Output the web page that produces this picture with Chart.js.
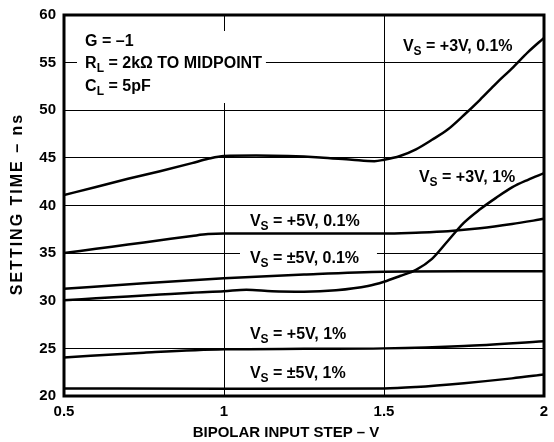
<!DOCTYPE html>
<html>
<head>
<meta charset="utf-8">
<script src="https://cdn.jsdelivr.net/npm/chart.js@4/dist/chart.umd.min.js"></script>
<style>
html,body{margin:0;padding:0;background:#fff;}
#wrap{width:554px;height:442px;position:relative;}
</style>
</head>
<body>
<div id="wrap"><canvas id="c"></canvas></div>
<script>
// ---- data ----
const xTicks = [0.5, 1, 1.5, 2];
const yTicks = [20, 25, 30, 35, 40, 45, 50, 55, 60];

const xA = [0.5, 0.6, 0.7, 0.8, 0.9, 0.95, 1.0, 1.1, 1.2, 1.3, 1.4, 1.47, 1.5, 1.55, 1.6, 1.65, 1.7, 1.75, 1.8, 1.85, 1.9, 1.95, 2.0];
const yA = [41.1, 41.95, 42.8, 43.6, 44.45, 44.9, 45.2, 45.25, 45.2, 45.05, 44.8, 44.65, 44.8, 45.2, 45.9, 46.9, 48.0, 49.5, 51.1, 52.8, 54.4, 56.1, 57.6];

const xB = [0.5, 0.6, 0.7, 0.8, 0.9, 1.0, 1.07, 1.15, 1.25, 1.35, 1.45, 1.5, 1.55, 1.6, 1.65, 1.7, 1.75, 1.8, 1.85, 1.9, 1.95, 2.0];
const yB = [30.05, 30.25, 30.45, 30.65, 30.85, 31.0, 31.15, 31.0, 30.95, 31.1, 31.55, 32.0, 32.6, 33.25, 34.4, 36.3, 38.2, 39.6, 40.8, 41.9, 42.7, 43.4];

const xC = [0.5, 0.6, 0.7, 0.8, 0.9, 0.95, 1.0, 1.2, 1.4, 1.5, 1.6, 1.7, 1.8, 1.9, 2.0];
const yC = [35.0, 35.45, 35.9, 36.35, 36.8, 37.0, 37.05, 37.05, 37.05, 37.05, 37.15, 37.3, 37.6, 38.05, 38.6];

const xD = [0.5, 0.75, 1.0, 1.25, 1.5, 1.75, 2.0];
const yD = [31.25, 31.85, 32.35, 32.75, 33.05, 33.1, 33.1];

const xE = [0.5, 0.75, 1.0, 1.25, 1.5, 1.75, 2.0];
const yE = [24.05, 24.55, 24.9, 24.95, 25.0, 25.25, 25.75];

const xF = [0.5, 1.0, 1.5, 1.6, 1.75, 1.9, 2.0];
const yF = [20.8, 20.75, 20.8, 20.95, 21.35, 21.85, 22.25];

const seriesNames = ['VS = +3V, 0.1%', 'VS = +3V, 1%', 'VS = +5V, 0.1%', 'VS = ±5V, 0.1%', 'VS = +5V, 1%', 'VS = ±5V, 1%'];

// ---- annotations (text, in data coordinates) ----
const noteLines = [
  {parts: [['G = \u20131', 0]], x: 0.566, y: 56.75},
  {parts: [['R', 0], ['L', 1], [' = 2k\u03A9 TO MIDPOINT', 0]], x: 0.566, y: 54.44},
  {parts: [['C', 0], ['L', 1], [' = 5pF', 0]], x: 0.566, y: 52.02}
];
const curveLabels = [
  {parts: [['V', 0], ['S', 1], [' = +3V, 0.1%', 0]], x: 1.559, y: 56.22},
  {parts: [['V', 0], ['S', 1], [' = +3V, 1%', 0]], x: 1.609, y: 42.47},
  {parts: [['V', 0], ['S', 1], [' = +5V, 0.1%', 0]], x: 1.081, y: 37.85},
  {parts: [['V', 0], ['S', 1], [' = \u00B15V, 0.1%', 0]], x: 1.081, y: 33.96},
  {parts: [['V', 0], ['S', 1], [' = +5V, 1%', 0]], x: 1.081, y: 25.98},
  {parts: [['V', 0], ['S', 1], [' = \u00B15V, 1%', 0]], x: 1.081, y: 21.89}
];
const maskBoxes = [
  {x0: 0.5406, x1: 1.131, y0: 58.32, y1: 50.76},
  {x0: 1.05, x1: 1.478, y0: 35.64, y1: 33.44}
];
const xTitle = 'BIPOLAR INPUT STEP \u2013 V';
const yTitle = 'SETTING TIME \u2013 ns';

const FONT = '"Liberation Sans", Arial, Helvetica, sans-serif';
const zip = (xs, ys) => xs.map((x, i) => ({x: x, y: ys[i]}));
const allX = [xA, xB, xC, xD, xE, xF];
const allY = [yA, yB, yC, yD, yE, yF];

const datasets = allX.map((xs, i) => ({
  label: seriesNames[i],
  data: zip(xs, allY[i]),
  borderColor: '#000',
  borderWidth: 2.5,
  pointRadius: 0,
  fill: false,
  cubicInterpolationMode: 'monotone'
}));

function drawParts(ctx, parts, x, y) {
  let cx = x;
  parts.forEach(([t, sub]) => {
    ctx.font = 'bold ' + (sub ? 12 : 16) + 'px ' + FONT;
    ctx.fillText(t, cx, sub ? y + 4 : y);
    cx += ctx.measureText(t).width;
  });
}

const decor = {
  id: 'decor',
  beforeDatasetsDraw(chart) {
    const {ctx, scales: {x, y}} = chart;
    ctx.save();
    ctx.fillStyle = '#fff';
    maskBoxes.forEach(b => {
      const px0 = x.getPixelForValue(b.x0), px1 = x.getPixelForValue(b.x1);
      const py0 = y.getPixelForValue(b.y0), py1 = y.getPixelForValue(b.y1);
      ctx.fillRect(px0, py0, px1 - px0, py1 - py0);
    });
    ctx.restore();
  },
  afterDatasetsDraw(chart) {
    const {ctx, chartArea: a, scales: {x, y}} = chart;
    ctx.save();
    ctx.strokeStyle = '#000';
    ctx.lineWidth = 3;
    ctx.strokeRect(a.left, a.top, a.right - a.left, a.bottom - a.top);
    ctx.fillStyle = '#000';
    ctx.textBaseline = 'alphabetic';
    ctx.textAlign = 'left';
    noteLines.concat(curveLabels).forEach(l => {
      drawParts(ctx, l.parts, x.getPixelForValue(l.x), y.getPixelForValue(l.y));
    });
    // x axis title
    ctx.font = 'bold 15px ' + FONT;
    ctx.textAlign = 'center';
    ctx.textBaseline = 'middle';
    ctx.fillText(xTitle, 286, 433);
    // y axis title
    ctx.translate(18, 204);
    ctx.rotate(-Math.PI / 2);
    ctx.font = 'bold 16px ' + FONT;
    try { ctx.letterSpacing = '2px'; } catch (e) {}
    ctx.fillText(yTitle, 0, 0);
    ctx.restore();
  }
};

new Chart(document.getElementById('c'), {
  type: 'line',
  data: {datasets: datasets},
  plugins: [decor],
  options: {
    responsive: true,
    maintainAspectRatio: false,
    animation: false,
    layout: {padding: {left: 0, right: 10, top: 15, bottom: 0}},
    plugins: {legend: {display: false}, tooltip: {enabled: false}},
    scales: {
      x: {
        type: 'linear', min: 0.5, max: 2,
        afterBuildTicks: s => { s.ticks = xTicks.map(v => ({value: v})); },
        afterFit: s => { s.height = 46; s.paddingRight = 4; s.paddingLeft = 4; },
        grid: {color: '#000', lineWidth: 1, drawTicks: false},
        border: {display: false},
        ticks: {color: '#000', font: {family: FONT, size: 15, weight: 'bold'}, padding: 7, maxRotation: 0,
          callback: v => String(v)},
        title: {display: false}
      },
      y: {
        type: 'linear', min: 20, max: 60,
        afterBuildTicks: s => { s.ticks = yTicks.map(v => ({value: v})); },
        afterFit: s => { s.width = 64; s.paddingTop = 8; s.paddingBottom = 8; },
        grid: {color: '#000', lineWidth: 1, drawTicks: false},
        border: {display: false},
        ticks: {color: '#000', font: {family: FONT, size: 15, weight: 'bold'}, padding: 8,
          callback: v => String(v)},
        title: {display: false}
      }
    }
  }
});
</script>
</body>
</html>
